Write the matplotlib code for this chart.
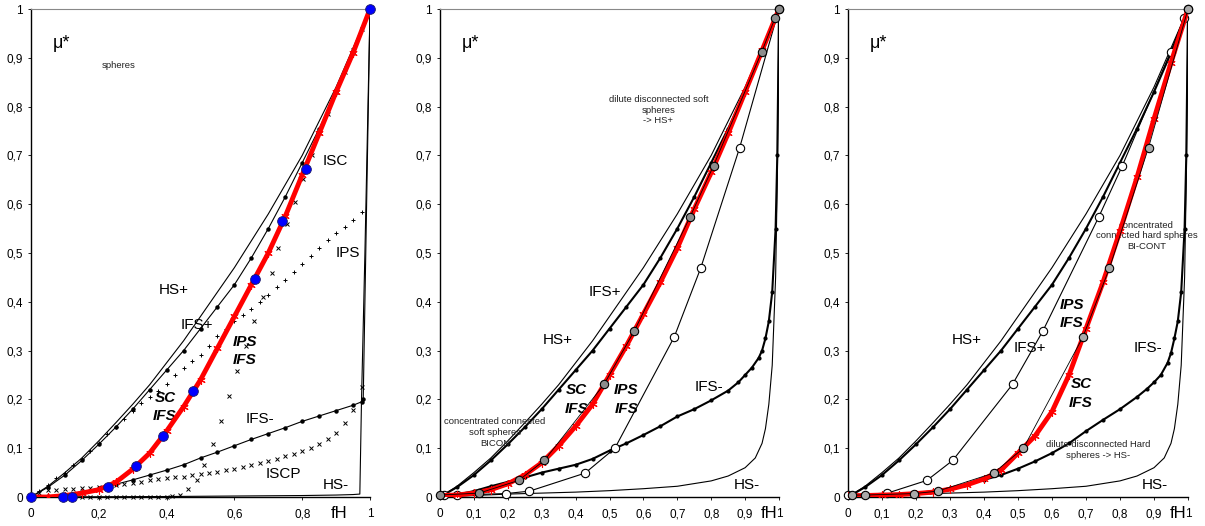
import matplotlib
matplotlib.use('Agg')
import matplotlib.pyplot as plt  # noqa
import matplotlib.ticker as mticker  # noqa

plt.rcParams['font.family'] = ['Liberation Sans', 'DejaVu Sans']

# common abscissa for the smooth curves
FH = [0, 0.05, 0.1, 0.15, 0.2, 0.25, 0.3, 0.35, 0.4, 0.45, 0.5,
      0.55, 0.6, 0.65, 0.7, 0.75, 0.8, 0.85, 0.9, 0.95, 1]

# bounds, same in every panel
HS_PLUS = [0, 0.022, 0.05, 0.08, 0.115, 0.152, 0.19, 0.23, 0.275, 0.32, 0.37,
           0.42, 0.47, 0.525, 0.58, 0.64, 0.70, 0.77, 0.84, 0.92, 1]
IFS_PLUS = [0, 0.02, 0.045, 0.075, 0.108, 0.143, 0.18, 0.22, 0.26, 0.3, 0.345,
            0.39, 0.435, 0.49, 0.55, 0.615, 0.685, 0.755, 0.83, 0.91, 1]

# panel 1 (spheres)
P1_HS_MINUS_X = [0, 0.2, 0.4, 0.6, 0.8, 0.9, 0.95, 0.97, 0.975, 0.985, 1]
P1_HS_MINUS_Y = [0, 0.0005, 0.001, 0.002, 0.003, 0.004, 0.005, 0.006, 0.2, 0.5, 1]
P1_IFS_MINUS_X = [0, 0.05, 0.1, 0.15, 0.2, 0.25, 0.3, 0.35, 0.4, 0.45, 0.5, 0.55,
                  0.6, 0.65, 0.7, 0.75, 0.8, 0.85, 0.9, 0.95, 0.975, 0.98, 1]
P1_IFS_MINUS_Y = [0, 0.002, 0.004, 0.01, 0.018, 0.026, 0.035, 0.045, 0.055, 0.066,
                  0.08, 0.092, 0.105, 0.118, 0.13, 0.142, 0.155, 0.166, 0.177, 0.188,
                  0.195, 0.2, 1]
P1_RED = [0, 0, 0.003, 0.008, 0.015, 0.03, 0.057, 0.09, 0.135, 0.185, 0.24,
          0.305, 0.37, 0.435, 0.5, 0.575, 0.66, 0.745, 0.83, 0.91, 1]
P1_BLUE_X = [0, 0.095, 0.12, 0.228, 0.31, 0.39, 0.477, 0.661, 0.74, 0.811, 1]
P1_BLUE_Y = [0, 0, 0, 0.02, 0.063, 0.126, 0.217, 0.446, 0.565, 0.673, 1]

IPS_X = [0.025, 0.05, 0.075, 0.1, 0.125, 0.15, 0.175, 0.2, 0.225, 0.25, 0.275,
         0.3, 0.325, 0.35, 0.375, 0.4, 0.425, 0.45, 0.475, 0.5, 0.525, 0.55,
         0.575, 0.6, 0.625, 0.65, 0.675, 0.7, 0.725, 0.75, 0.775, 0.8, 0.825,
         0.85, 0.875, 0.9, 0.925, 0.95, 0.975]
IPS_Y = [0.012, 0.025, 0.038, 0.05, 0.065, 0.078, 0.095, 0.11, 0.13, 0.143, 0.16,
         0.177, 0.192, 0.205, 0.218, 0.232, 0.25, 0.264, 0.279, 0.292, 0.31, 0.33,
         0.345, 0.36, 0.372, 0.385, 0.4, 0.413, 0.43, 0.445, 0.462, 0.478, 0.494,
         0.51, 0.526, 0.54, 0.553, 0.567, 0.585]
ISCP_Y = [0.008, 0.014, 0.015, 0.016, 0.017, 0.018, 0.019, 0.021, 0.023, 0.025,
          0.027, 0.029, 0.031, 0.034, 0.036, 0.038, 0.04, 0.042, 0.045, 0.048,
          0.05, 0.052, 0.055, 0.058, 0.062, 0.066, 0.07, 0.074, 0.078, 0.083,
          0.088, 0.094, 0.1, 0.108, 0.118, 0.132, 0.152, 0.178, 0.225]
ISC_X = [0.1, 0.125, 0.15, 0.175, 0.2, 0.225, 0.25, 0.275, 0.3, 0.325, 0.35,
         0.375, 0.4, 0.415, 0.44, 0.464, 0.489, 0.51, 0.536, 0.56, 0.585, 0.609,
         0.634, 0.658, 0.685, 0.71, 0.73, 0.755, 0.78, 0.803, 0.83, 0.853, 0.877,
         0.9, 0.925, 0.95, 0.975]
ISC_Y = [0, 0, 0, 0, 0, 0, 0, 0, 0, 0, 0, 0, 0, 0.002, 0.005, 0.016, 0.035, 0.066,
         0.108, 0.156, 0.207, 0.258, 0.31, 0.36, 0.41, 0.46, 0.51, 0.56, 0.605,
         0.652, 0.7, 0.745, 0.785, 0.83, 0.87, 0.915, 0.96]

# panels 2 and 3
HS_MINUS_X = [0, 0.1, 0.2, 0.3, 0.4, 0.5, 0.6, 0.7, 0.8, 0.85, 0.9, 0.93, 0.95,
              0.96, 0.97, 0.98, 0.99, 0.995, 1]
HS_MINUS_Y = [0, 0.003, 0.006, 0.008, 0.01, 0.013, 0.017, 0.022, 0.033, 0.043,
              0.06, 0.08, 0.11, 0.14, 0.19, 0.27, 0.45, 0.65, 1]
IFS_MINUS_X = [0, 0.05, 0.1, 0.15, 0.2, 0.25, 0.3, 0.35, 0.4, 0.45, 0.5, 0.55,
               0.6, 0.65, 0.7, 0.75, 0.8, 0.85, 0.88, 0.9, 0.92, 0.94, 0.95,
               0.96, 0.97, 0.98, 0.99, 0.995, 1]
P2_IFS_MINUS_Y = [0, 0.005, 0.012, 0.022, 0.031, 0.04, 0.05, 0.058, 0.066, 0.078,
                  0.095, 0.11, 0.127, 0.145, 0.165, 0.18, 0.198, 0.218, 0.235,
                  0.25, 0.265, 0.285, 0.3, 0.325, 0.36, 0.42, 0.55, 0.7, 1]
P3_IFS_MINUS_Y = [0, 0.002, 0.004, 0.006, 0.008, 0.012, 0.018, 0.026, 0.035,
                  0.045, 0.058, 0.073, 0.09, 0.11, 0.135, 0.158, 0.18, 0.205,
                  0.222, 0.235, 0.25, 0.275, 0.295, 0.325, 0.36, 0.42, 0.55,
                  0.7, 1]
P2_RED = [0.003, 0.004, 0.008, 0.015, 0.027, 0.045, 0.07, 0.105, 0.145, 0.19,
          0.25, 0.31, 0.375, 0.44, 0.51, 0.59, 0.665, 0.745, 0.83, 0.915, 1]
P3_RED = [0.003, 0.003, 0.004, 0.005, 0.007, 0.01, 0.016, 0.025, 0.037, 0.055,
          0.09, 0.125, 0.175, 0.25, 0.345, 0.44, 0.545, 0.655, 0.775, 0.89, 1]

SET_A_X = [0, 0.116, 0.232, 0.308, 0.484, 0.573, 0.737, 0.807, 0.949, 0.988, 1]
SET_A_Y = [0.004, 0.008, 0.034, 0.075, 0.231, 0.34, 0.573, 0.679, 0.912, 0.981, 1]
SET_B_X = [0.012, 0.051, 0.194, 0.264, 0.428, 0.516, 0.691, 0.769, 0.884, 1]
SET_B_Y = [0.004, 0.004, 0.007, 0.012, 0.049, 0.1, 0.328, 0.469, 0.716, 1]

Y_TICKS = [0, 0.1, 0.2, 0.3, 0.4, 0.5, 0.6, 0.7, 0.8, 0.9, 1]

FIG_W, FIG_H = 1205, 526
RED = '#ff0000'
GRAY = '#8c8c8c'


def comma(v, _pos=None):
    return ('%g' % round(v, 1)).replace('.', ',')


def setup_axes(ax, xticks, fh_x):
    ax.set_xlim(0, 1)
    ax.set_ylim(0, 1)
    ax.set_xticks(xticks)
    ax.set_yticks(Y_TICKS)
    ax.xaxis.set_major_formatter(mticker.FuncFormatter(comma))
    ax.yaxis.set_major_formatter(mticker.FuncFormatter(comma))
    ax.tick_params(labelsize=8.5, length=2, width=0.6, pad=4)
    ax.tick_params(axis='x', pad=6)
    ax.spines['right'].set_visible(False)
    ax.spines['top'].set_color('#888888')
    for sp in ['left', 'bottom']:
        ax.spines[sp].set_linewidth(1.0)
    ax.text(fh_x, -0.034, 'fH', fontsize=12, ha='center', va='center',
            transform=ax.transData, clip_on=False)
    ax.text(0.09, 0.93, 'μ*', fontsize=13, ha='center', va='center')


def label(ax, x, y, s, size=11, bold=False):
    ax.text(x, y, s, fontsize=size, ha='center', va='center',
            fontweight='bold' if bold else 'normal',
            fontstyle='italic' if bold else 'normal')


def note(ax, x, y, s):
    ax.text(x, y, s, fontsize=6.8, ha='center', va='center', linespacing=1.25,
            color='#222222')


def red_curve(ax, ys):
    ax.plot(FH, ys, color=RED, lw=3.5, zorder=4)
    ax.plot(FH, ys, ls='none', marker=(6, 2, 0), ms=6, mew=0.8,
            color=RED, zorder=4)


def dotted(ax, xs, ys, lw=0.8, ms=2.2):
    ax.plot(xs, ys, color='black', lw=lw, marker='o', ms=ms, zorder=3)


fig = plt.figure(figsize=(FIG_W / 100, FIG_H / 100), dpi=100)
bottom = (FIG_H - 497) / FIG_H
height = 488 / FIG_H
ax1 = fig.add_axes([31 / FIG_W, bottom, 339 / FIG_W, height])
ax2 = fig.add_axes([440 / FIG_W, bottom, 339 / FIG_W, height])
ax3 = fig.add_axes([848 / FIG_W, bottom, 340 / FIG_W, height])

# ---- panel 1
setup_axes(ax1, [0, 0.2, 0.4, 0.6, 0.8, 1], 0.91)
ax1.plot(FH, HS_PLUS, color='black', lw=0.8)
dotted(ax1, FH, IFS_PLUS)
ax1.plot(P1_HS_MINUS_X, P1_HS_MINUS_Y, color='black', lw=0.8)
dotted(ax1, P1_IFS_MINUS_X, P1_IFS_MINUS_Y)
ax1.plot(IPS_X, IPS_Y, ls='none', marker='+', ms=3.5, mew=0.7, color='black')
ax1.plot(IPS_X, ISCP_Y, ls='none', marker='x', ms=2.8, mew=0.7, color='black')
ax1.plot(ISC_X, ISC_Y, ls='none', marker='x', ms=2.8, mew=0.7, color='black',
         clip_on=False)
red_curve(ax1, P1_RED)
ax1.plot(P1_BLUE_X, P1_BLUE_Y, ls='none', marker='o', ms=7, mfc='#0000ff',
         mec='#1a1a66', mew=0.6, zorder=5, clip_on=False)
note(ax1, 0.26, 0.885, 'spheres')
label(ax1, 0.897, 0.688, 'ISC')
label(ax1, 0.936, 0.501, 'IPS')
label(ax1, 0.42, 0.424, 'HS+')
label(ax1, 0.489, 0.352, 'IFS+')
label(ax1, 0.631, 0.318, 'IPS', bold=True)
label(ax1, 0.631, 0.281, 'IFS', bold=True)
label(ax1, 0.397, 0.202, 'SC', bold=True)
label(ax1, 0.395, 0.165, 'IFS', bold=True)
label(ax1, 0.675, 0.159, 'IFS-')
label(ax1, 0.744, 0.048, 'ISCP')
label(ax1, 0.90, 0.025, 'HS-')

# ---- panel 2
setup_axes(ax2, Y_TICKS, 0.972)
ax2.plot(FH, HS_PLUS, color='black', lw=0.8)
dotted(ax2, FH, IFS_PLUS, lw=1.5, ms=2)
ax2.plot(HS_MINUS_X, HS_MINUS_Y, color='black', lw=0.8)
dotted(ax2, IFS_MINUS_X, P2_IFS_MINUS_Y, lw=1.5, ms=2)
ax2.plot(SET_B_X, SET_B_Y, color='black', lw=0.8, marker='o', ms=6,
         mfc='white', mec='black', mew=0.8, zorder=3, clip_on=False)
red_curve(ax2, P2_RED)
ax2.plot(SET_A_X, SET_A_Y, color='black', lw=0.6, marker='o', ms=6,
         mfc=GRAY, mec='black', mew=0.8, zorder=5, clip_on=False)
note(ax2, 0.644, 0.793, 'dilute disconnected soft\nspheres\n-> HS+')
note(ax2, 0.162, 0.132, 'concentrated connected\nsoft spheres\nBICON')
label(ax2, 0.487, 0.42, 'IFS+')
label(ax2, 0.347, 0.322, 'HS+')
label(ax2, 0.403, 0.219, 'SC', bold=True)
label(ax2, 0.403, 0.18, 'IFS', bold=True)
label(ax2, 0.549, 0.219, 'IPS', bold=True)
label(ax2, 0.549, 0.18, 'IFS', bold=True)
label(ax2, 0.794, 0.226, 'IFS-')
label(ax2, 0.905, 0.025, 'HS-')

# ---- panel 3
setup_axes(ax3, Y_TICKS, 0.972)
ax3.plot(FH, HS_PLUS, color='black', lw=0.8)
dotted(ax3, FH, IFS_PLUS, lw=1.5, ms=2)
ax3.plot(HS_MINUS_X, HS_MINUS_Y, color='black', lw=0.8)
dotted(ax3, IFS_MINUS_X, P3_IFS_MINUS_Y, lw=1.5, ms=2)
ax3.plot(SET_A_X, SET_A_Y, color='black', lw=0.8, marker='o', ms=6,
         mfc='white', mec='black', mew=0.8, zorder=3, clip_on=False)
red_curve(ax3, P3_RED)
ax3.plot(SET_B_X, SET_B_Y, color='black', lw=0.6, marker='o', ms=6,
         mfc='#aaaaaa', mec='black', mew=0.8, zorder=5, clip_on=False)
note(ax3, 0.878, 0.535, 'concentrated\nconnected hard spheres\nBI-CONT')
note(ax3, 0.736, 0.096, 'dilute disconnected Hard\nspheres -> HS-')
label(ax3, 0.349, 0.322, 'HS+')
label(ax3, 0.535, 0.305, 'IFS+')
label(ax3, 0.658, 0.393, 'IPS', bold=True)
label(ax3, 0.658, 0.356, 'IFS', bold=True)
label(ax3, 0.685, 0.232, 'SC', bold=True)
label(ax3, 0.685, 0.193, 'IFS', bold=True)
label(ax3, 0.883, 0.305, 'IFS-')
label(ax3, 0.903, 0.025, 'HS-')

fig.savefig('out.png', dpi=100)
plt.close(fig)
